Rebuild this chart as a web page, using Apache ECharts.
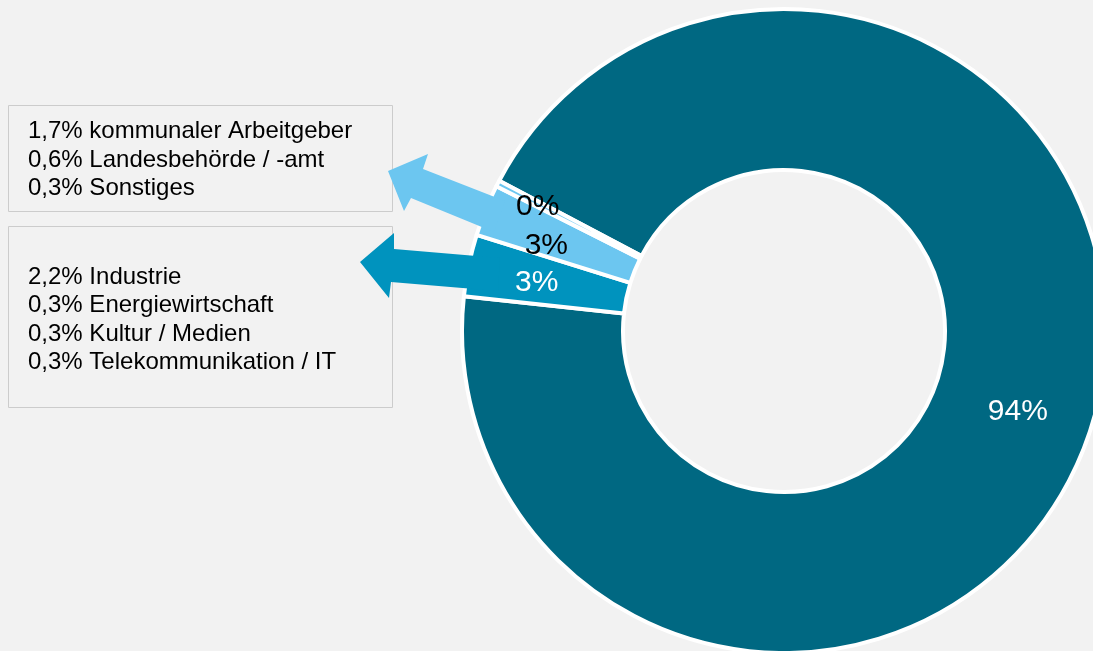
<!DOCTYPE html>
<html>
<head>
<meta charset="utf-8">
<script src="https://cdn.jsdelivr.net/npm/echarts@6/dist/echarts.min.js"></script>
<style>
  html, body { margin: 0; padding: 0; background: #f2f2f2; }
  #main { width: 1093px; height: 651px; }
</style>
</head>
<body>
<div id="main"></div>
<script>
// Anteile (Ring)
var sliceNames = ['Öffentlicher Dienst', 'Wirtschaft', 'Öffentliche Arbeitgeber', 'Sonstige'];
var sliceValues = [94.0, 3.1, 2.6, 0.3];

// Textboxen links
var boxTop = [
  '1,7% kommunaler Arbeitgeber',
  '0,6% Landesbehörde / -amt',
  '0,3% Sonstiges'
];
var boxBottom = [
  '2,2% Industrie',
  '0,3% Energiewirtschaft',
  '0,3% Kultur / Medien',
  '0,3% Telekommunikation / IT'
];

var colors = ['#006882', '#0093be', '#6cc6f0', '#6cc6f0'];
var labelColors = ['#fff', '#fff', '#000', '#000'];
var labelOffsets = [[0, 9], [-8, 2], [-11, 6], [-29, -12]];
var FONT = "'Liberation Sans', Arial, sans-serif";

var chart = echarts.init(document.getElementById('main'), null, { renderer: 'canvas' });

var seriesData = sliceValues.map(function (v, i) {
  return {
    name: sliceNames[i],
    value: v,
    itemStyle: { color: colors[i] },
    label: { color: labelColors[i], offset: labelOffsets[i] }
  };
});

function textBox(x, y, w, h, lines, firstLineY) {
  return {
    type: 'group',
    z: 100,
    children: [
      {
        type: 'rect',
        shape: { x: x, y: y, width: w, height: h },
        style: { fill: '#f2f2f2', stroke: '#cccccc', lineWidth: 1 }
      },
      {
        type: 'text',
        x: 28,
        y: firstLineY - 14.25,
        style: {
          text: lines.join('\n'),
          font: '24px ' + FONT,
          fill: '#000',
          lineHeight: 28.5,
          verticalAlign: 'top'
        }
      }
    ]
  };
}

var option = {
  backgroundColor: '#f2f2f2',
  animation: false,
  series: [{
    type: 'pie',
    center: [784, 331],
    radius: [161, 322],
    startAngle: 152.2,
    clockwise: true,
    avoidLabelOverlap: false,
    emphasis: { disabled: true },
    itemStyle: { borderColor: '#fff', borderWidth: 4 },
    label: {
      show: true,
      position: 'inside',
      fontSize: 30,
      fontFamily: FONT,
      formatter: function (p) { return Math.round(p.percent) + '%'; }
    },
    labelLine: { show: false },
    data: seriesData
  }],
  graphic: [
    textBox(8.5, 105.5, 384, 106, boxTop, 131.5),
    textBox(8.5, 226.5, 384, 181, boxBottom, 277),
    {
      // Pfeil hellblau
      type: 'polygon',
      z: 100,
      shape: { points: [[388, 171], [428, 154], [423, 169], [505, 201], [494, 232], [411, 198], [404, 211]] },
      style: { fill: '#6cc6f0' }
    },
    {
      // Pfeil mittelblau
      type: 'polygon',
      z: 100,
      shape: { points: [[360, 262], [394, 233], [394, 249], [500, 258], [498, 291], [391, 282], [389, 298]] },
      style: { fill: '#0093be' }
    }
  ]
};

chart.setOption(option);
</script>
</body>
</html>
